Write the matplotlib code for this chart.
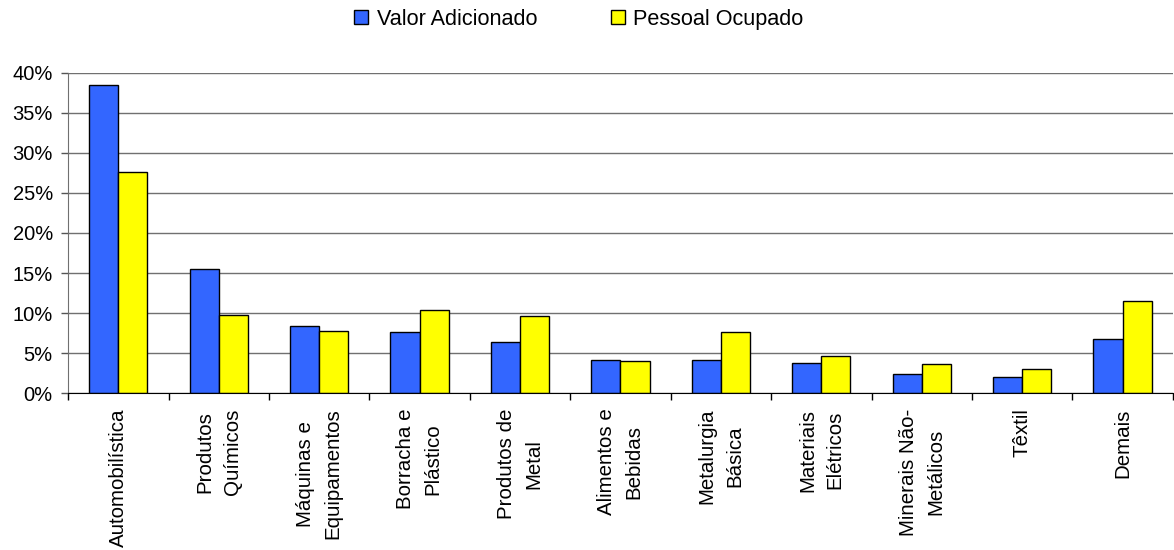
import matplotlib
matplotlib.use("Agg")
import matplotlib.pyplot as plt
import numpy as np
from matplotlib.ticker import FuncFormatter, FixedLocator

plt.rcParams["font.family"] = ["Liberation Sans", "DejaVu Sans"]

categorias = ["Automobilística", "Produtos\nQuímicos", "Máquinas e\nEquipamentos",
              "Borracha e\nPlástico", "Produtos de\nMetal", "Alimentos e\nBebidas",
              "Metalurgia\nBásica", "Materiais\nElétricos", "Minerais Não-\nMetálicos",
              "Têxtil", "Demais"]
valor_adicionado = [38.5, 15.5, 8.4, 7.6, 6.4, 4.2, 4.2, 3.8, 2.4, 2.0, 6.8]
pessoal_ocupado = [27.6, 9.8, 7.8, 10.4, 9.6, 4.0, 7.6, 4.7, 3.6, 3.0, 11.5]
y_ticks = [0, 5, 10, 15, 20, 25, 30, 35, 40]

fig = plt.figure(figsize=(11.74, 5.5), dpi=100)
ax = fig.add_axes([0.058, 0.285, 0.941, 0.583])

x = np.arange(len(categorias))
w = 0.29
b1 = ax.bar(x - w / 2, valor_adicionado, w, color="#3366FF", edgecolor="black",
            linewidth=1, label="Valor Adicionado", zorder=3)
b2 = ax.bar(x + w / 2, pessoal_ocupado, w, color="#FFFF00", edgecolor="black",
            linewidth=1, label="Pessoal Ocupado", zorder=3)

ax.set_xlim(-0.5, len(categorias) - 0.5)
ax.set_ylim(0, 40)
ax.set_yticks(y_ticks)
ax.yaxis.set_major_formatter(FuncFormatter(lambda v, p: f"{v:.0f}%"))
ax.yaxis.grid(True, color="#707070", linewidth=1, zorder=0)

ax.set_xticks(x)
ax.set_xticklabels(categorias, rotation=90, ha="center", va="top",
                   multialignment="center", fontsize=14.8, linespacing=1.55)
ax.xaxis.set_minor_locator(FixedLocator(np.arange(len(categorias) + 1) - 0.5))
ax.tick_params(axis="x", which="major", length=0, pad=11)
ax.tick_params(axis="x", which="minor", length=5, width=1, color="black", direction="out")
ax.tick_params(axis="y", length=5, width=1, color="#555555", pad=6, labelsize=14.5)

for s in ["top", "right"]:
    ax.spines[s].set_visible(False)
ax.spines["left"].set_color("#707070")
ax.spines["bottom"].set_color("black")
ax.spines["bottom"].set_zorder(4)

fig.legend(handles=[b1, b2], loc="center", bbox_to_anchor=(0.493, 0.965), ncol=2,
           frameon=False, fontsize=15.6, handlelength=0.65, handleheight=0.65,
           handletextpad=0.4, columnspacing=3.4)

fig.savefig("out.png", dpi=100)
